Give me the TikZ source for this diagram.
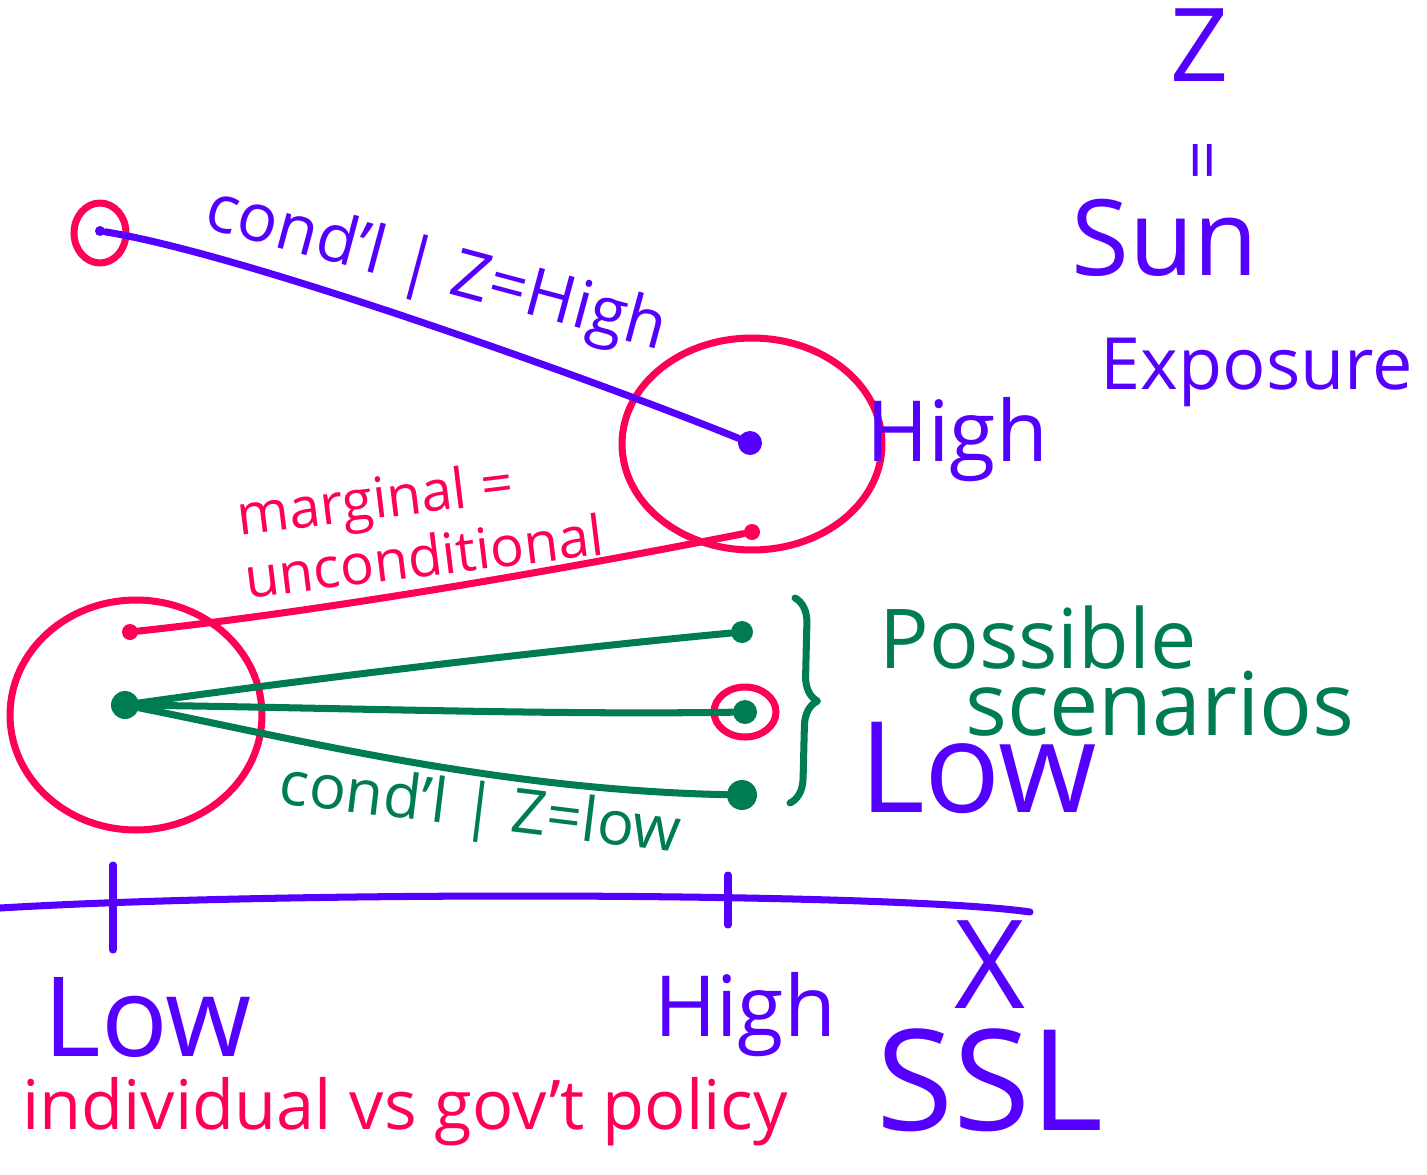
\documentclass[tikz,border=0pt]{standalone}
\usepackage{fontspec}
\setmainfont{Open Sans}
\usetikzlibrary{shapes.geometric,decorations.pathreplacing}
\definecolor{penblue}{RGB}{85,0,255}
\definecolor{penred}{RGB}{255,0,85}
\definecolor{pengreen}{RGB}{0,125,80}

\begin{document}
\begin{tikzpicture}[x=0.02cm, y=-0.02cm, line cap=round, line join=round,
    pen/.style={line width=4pt},
    dot/.style={circle, fill, inner sep=0pt, minimum size=#1},
    ring/.style={ellipse, draw=penred, line width=4pt, inner sep=0pt},
    hand/.style={font=\fontsize{#1}{#1}\selectfont, inner sep=0pt}]
    \useasboundingbox (0,0) rectangle (1427,1174);

    % Z = sun exposure
    \node[hand=58pt, penblue] (zname) at (1200,45) {Z};
    \node[hand=40pt, penblue, rotate=90] (zeq) at (1210,160) {=};
    \node[hand=60pt, penblue] (sun) at (1165,238) {Sun};
    \node[hand=41pt, penblue] (expo) at (1257,372) {Exposure};

    % high exposure
    \node[ring, minimum width=5.2cm, minimum height=4.24cm] (hiring) at (752,444) {};
    \node[dot=0.48cm, penblue] (hiblue) at (750,443) {};
    \node[dot=0.32cm, penred] (hired) at (752,532) {};
    \node[hand=48pt, penblue] (hilab) at (957,440) {High};

    % conditional on high
    \node[ring, minimum width=1.04cm, minimum height=1.2cm] (topring) at (100,233) {};
    \node[dot=0.2cm, penblue] (topdot) at (100,231) {};
    \draw[pen, penblue] (topdot) .. controls (250,255) and (620,390) .. (hiblue);
    \node[hand=38pt, penblue, rotate=-15] (condhi) at (436,272) {cond'l | Z=High};

    % low exposure
    \node[ring, minimum width=5.04cm, minimum height=4.6cm] (loring) at (136,715) {};
    \node[dot=0.32cm, penred] (lored) at (130,632) {};
    \node[dot=0.56cm, pengreen] (logreen) at (125,705) {};

    % marginal
    \draw[pen, penred] (lored) .. controls (350,608) and (600,562) .. (hired);
    \node[hand=32pt, penred, rotate=7, align=left] (marg) at (420,524) {marginal =\\[4pt]unconditional};

    % scenarios
    \node[dot=0.44cm, pengreen] (scA) at (742,632) {};
    \node[dot=0.48cm, pengreen] (scB) at (745,712) {};
    \node[dot=0.6cm, pengreen] (scC) at (742,795) {};
    \node[ring, minimum width=1.24cm, minimum height=1.0cm] (scring) at (745,712) {};
    \draw[pen, pengreen] (logreen) .. controls (300,680) and (550,650) .. (scA);
    \draw[pen, pengreen] (logreen) .. controls (350,708) and (550,715) .. (scB);
    \draw[pen, pengreen] (logreen) .. controls (300,740) and (500,790) .. (scC);
    \node[hand=35pt, pengreen, rotate=-7] (condlo) at (480,812) {cond'l | Z=low};

    \coordinate (brtop) at (795,598);
    \coordinate (brbot) at (790,803);
    \draw[pen, pengreen, decorate, decoration={brace, amplitude=0.5cm}] (brtop) -- (brbot);
    \node[hand=47pt, pengreen] (poss) at (1038,638) {Possible};
    \node[hand=50pt, pengreen] (scen) at (1160,704) {scenarios};
    \node[hand=72pt, penblue] (lolab) at (978,768) {Low};

    % x axis
    \coordinate (axl) at (0,908);
    \coordinate (axr) at (1030,912);
    \draw[pen, penblue] (axl) .. controls (300,890) and (900,893) .. (axr);
    \coordinate (tkloA) at (113,865);
    \coordinate (tkloB) at (113,950);
    \coordinate (tkhiA) at (728,875);
    \coordinate (tkhiB) at (728,925);
    \draw[pen, penblue] (tkloA) -- (tkloB);
    \draw[pen, penblue] (tkhiA) -- (tkhiB);
    \node[hand=70pt, penblue] (xname) at (990,965) {X};
    \node[hand=80pt, penblue] (ssl) at (990,1080) {SSL};
    \node[hand=63pt, penblue] (xlo) at (148,1018) {Low};
    \node[hand=48pt, penblue] (xhi) at (745,1015) {High};
    \node[hand=39pt, penred] (policy) at (405,1112) {individual vs gov't policy};
\end{tikzpicture}
\end{document}
